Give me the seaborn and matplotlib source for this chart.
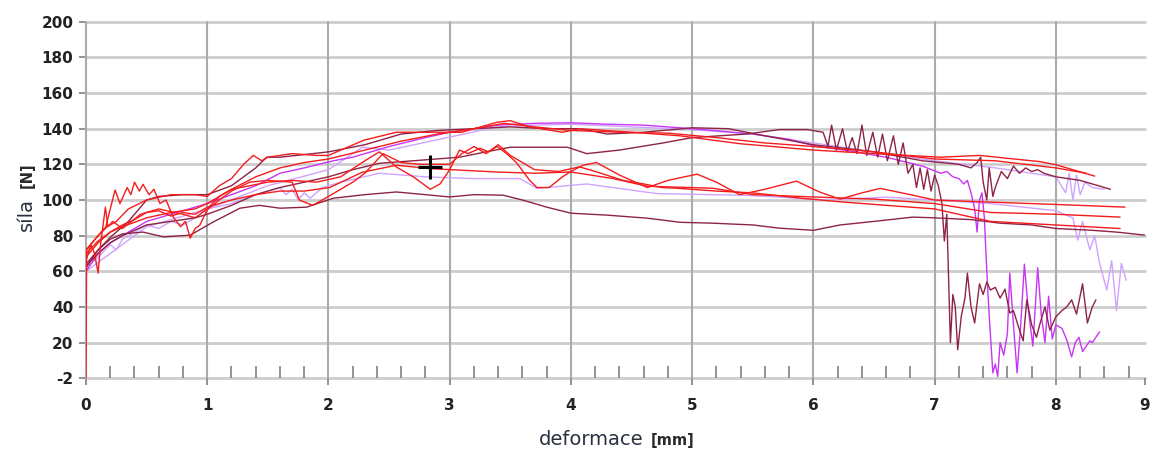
import matplotlib
matplotlib.use("Agg")
import matplotlib.pyplot as plt
import seaborn as sns
import pandas as pd
from matplotlib.ticker import FixedLocator, MultipleLocator

sns.set_theme(style="white")
plt.rcParams['font.family'] = ['DejaVu Sans']

# ---------------- data ----------------
X_END = 8.735            # right end of the axis (labelled "9" in the original)
x_ticks = [0, 1, 2, 3, 4, 5, 6, 7, 8, X_END]
x_tick_labels = ["0", "1", "2", "3", "4", "5", "6", "7", "8", "9"]
y_ticks = [0, 20, 40, 60, 80, 100, 120, 140, 160, 180, 200]
y_tick_labels = ["-2", "20", "40", "60", "80", "100", "120", "140", "160", "180", "200"]

# lowest maroon curve
m_low_x = [0, 0.1, 0.2, 0.3, 0.47, 0.64, 0.86, 1.05, 1.27, 1.43, 1.6, 1.82, 2.04, 2.3, 2.56,
           2.8, 3.0, 3.2, 3.44, 3.6, 3.8, 4.0, 4.3, 4.63, 4.9, 5.17, 5.5, 5.72, 6.0, 6.22, 6.5,
           6.82, 7.0, 7.3, 7.54, 7.8, 8.0, 8.3, 8.5, X_END]
m_low_y = [62, 72, 78, 81, 82, 79.3, 80.3, 87.7, 95.4, 97, 95.4, 96, 101, 103, 104.5,
           103, 101.7, 103, 102.7, 100, 96, 92.6, 91.5, 89.8, 87.5, 87, 86, 84.2, 83, 86, 88,
           90.4, 90, 89, 87, 86, 84, 83, 82, 80.3]

# maroon curve with oscillations from 6.1 and the collapse at 7.1
m_osc_x = [0, 0.1, 0.2, 0.3, 0.5, 0.7, 0.9, 1.0, 1.2, 1.4, 1.6, 1.8, 2.0, 2.2, 2.42, 2.7, 3.08,
           3.3, 3.5, 3.97, 4.13, 4.4, 4.76, 5.0, 5.45, 5.72, 5.95, 6.08,
           6.12, 6.15, 6.19, 6.24, 6.28, 6.32, 6.36, 6.40, 6.44, 6.49, 6.53, 6.57, 6.61, 6.66,
           6.70, 6.74, 6.78, 6.82, 6.85, 6.88, 6.91, 6.94, 6.97, 7.0, 7.03, 7.06, 7.08, 7.1,
           7.13, 7.15, 7.17, 7.19, 7.22, 7.25, 7.27, 7.3, 7.33, 7.37, 7.4, 7.43, 7.46, 7.5,
           7.54, 7.58, 7.62, 7.65, 7.7, 7.73, 7.76, 7.8, 7.84, 7.87, 7.91, 7.95, 8.0, 8.05,
           8.09, 8.13, 8.17, 8.22, 8.26, 8.3, 8.33]
m_osc_y = [63, 70, 76, 80, 86, 88, 90, 92, 97, 103, 107, 110, 113, 117, 120.6, 122, 124,
           127, 129.6, 129.6, 126, 128, 132, 135, 137, 139.5, 139.5, 138,
           130, 142, 128, 140, 127, 135, 126, 142, 125, 138, 124, 137, 122, 136,
           120, 132, 115, 120, 107, 118, 106, 117, 105, 114, 108, 98, 77, 92,
           20, 47, 40, 16, 35, 45, 59, 40, 31, 53, 47, 54, 49.5, 51,
           45, 50, 36.6, 38, 27, 21, 44, 30, 23, 31, 40, 27, 34.5, 38,
           40, 44, 36, 53, 31, 40, 44]

# upper maroon curve ending near 106
m_up_x = [0, 0.1, 0.2, 0.35, 0.5, 0.6, 0.8, 1.0, 1.2, 1.4, 1.49, 1.6, 1.87, 2.0, 2.3, 2.6,
          2.9, 3.2, 3.5, 3.8, 4.07, 4.3, 4.6, 5.0, 5.3, 5.6, 6.0, 6.5, 6.9, 7.05, 7.2, 7.3,
          7.35, 7.38, 7.4, 7.43, 7.45, 7.48, 7.5, 7.55, 7.6, 7.65, 7.7, 7.75, 7.8, 7.85, 7.9,
          8.0, 8.1, 8.2, 8.3, 8.4, 8.45]
m_up_y = [64, 72, 79, 88, 100, 102, 103, 103, 108, 118, 124, 124, 126, 127, 131, 137,
          139, 140, 141, 140, 140, 137, 138, 140.5, 140, 136, 131, 127, 122, 121, 120, 118,
          121, 124, 110, 100, 118, 102, 107, 116, 112, 119, 115, 118, 116, 117, 115,
          113, 112, 111, 109, 107, 106]

# magenta curve
mag_x = [0, 0.1, 0.2, 0.3, 0.5, 0.7, 0.9, 1.0, 1.2, 1.4, 1.6, 1.8, 2.04, 2.2, 2.5, 2.8,
         3.0, 3.2, 3.4, 3.7, 4.0, 4.3, 4.6, 5.0, 5.5, 5.8, 6.0, 6.3, 6.6, 6.9, 7.05, 7.1,
         7.15, 7.2, 7.24, 7.27, 7.3, 7.33, 7.35, 7.37, 7.39, 7.41, 7.43, 7.45, 7.48, 7.5,
         7.52, 7.54, 7.57, 7.6, 7.62, 7.65, 7.68, 7.71, 7.74, 7.77, 7.81, 7.85, 7.88, 7.91,
         7.94, 7.97, 8.0, 8.05, 8.09, 8.13, 8.16, 8.19, 8.22, 8.25, 8.28, 8.3, 8.33, 8.36]
mag_y = [60, 70, 76, 80, 88, 92, 96, 98, 103, 108, 115, 118, 122, 124, 130, 135,
         138, 140, 142, 143, 143.3, 142.5, 142, 140, 137, 134, 130.5, 127.5, 124, 119, 115, 116,
         113, 112, 109, 111, 104, 95, 82, 100, 104, 90, 60, 35, 3, 8,
         1, 20, 13, 25, 59, 30, 3, 30, 64, 40, 18, 62, 35, 20,
         46, 22, 30, 28, 21.5, 12, 20, 23, 15, 18, 21, 20, 23, 26]

# light violet, lower (ends with oscillations near 55)
lv_low_x = [0, 0.1, 0.2, 0.25, 0.3, 0.4, 0.5, 0.6, 0.7, 0.8, 0.9, 1.0, 1.2, 1.4, 1.6, 1.65,
            1.7, 1.75, 1.8, 1.85, 1.95, 2.1, 2.42, 2.8, 3.2, 3.58, 3.72, 4.13, 4.71, 5.45,
            5.72, 6.11, 6.6, 7.0, 7.46, 8.0, 8.14, 8.18, 8.22, 8.28, 8.32, 8.36, 8.42, 8.46,
            8.5, 8.54, 8.58]
lv_low_y = [62, 68, 75, 72, 78, 82, 86, 84, 88, 86, 90, 95, 98, 103, 107, 103,
            106, 100, 104, 101, 107, 110, 115, 113, 112, 112, 106.5, 109, 103.6, 102.6,
            101.6, 100, 101.6, 100, 98, 94, 90, 77.5, 88, 72, 80, 64.5, 49.5, 66,
            38, 64.5, 55]

# light violet, upper
lv_up_x = [0, 0.3, 0.5, 1.0, 1.5, 2.0, 2.28, 2.5, 2.98, 3.39, 3.7, 4.0, 4.5, 5.0, 5.5, 6.0,
           6.5, 7.0, 7.5, 8.0, 8.08, 8.11, 8.14, 8.17, 8.2, 8.24, 8.3, 8.4]
lv_up_y = [60, 75, 85, 95, 108, 117, 129.6, 128, 135, 141, 142, 142.5, 141, 139.5, 137, 132,
           127, 122, 118, 113, 104, 115, 100, 114, 103, 110, 107, 106]

# red curves
r1_x = [0, 0.005, 0.05, 0.1, 0.15, 0.25, 0.35, 0.5, 0.7, 0.9, 1.0, 1.1, 1.2, 1.3, 1.38, 1.45,
        1.5, 1.7, 1.9, 2.0, 2.29, 2.56, 2.84, 3.1, 3.39, 3.5, 3.66, 3.93, 4.07, 4.5, 4.9,
        5.39, 6.0, 6.5, 7.05, 7.37, 7.87, 8.0, 8.32]
r1_y = [0, 72, 76, 80, 84, 88, 95, 100, 103, 103, 102, 108, 112, 120, 125, 122,
        124, 126, 125, 125, 133.5, 138, 138, 138, 143.6, 144.5, 141, 138, 140, 138, 136,
        131.6, 128, 126, 124, 125, 121.5, 119.8, 113.4]

r2_x = [0, 0.1, 0.2, 0.3, 0.5, 0.7, 0.9, 1.0, 1.2, 1.4, 1.6, 1.8, 2.0, 2.3, 2.6, 2.9, 3.2,
        3.45, 3.7, 4.0, 4.4, 4.8, 5.2, 5.6, 6.0, 6.5, 7.0, 7.5, 8.0, 8.25]
r2_y = [68, 76, 82, 85, 90, 93, 95, 98, 106, 113, 118, 121, 123, 128, 133, 137, 140,
        143, 141, 139, 138, 137.5, 135, 132, 130, 127, 123, 122, 118, 115]

r_wavy_x = [0, 0.04, 0.07, 0.1, 0.12, 0.16, 0.18, 0.22, 0.3, 0.45, 0.6, 0.8, 0.9, 1.0, 1.1,
            1.2, 1.35, 1.5, 1.7, 1.9, 2.1, 2.3, 2.42, 2.56, 2.7, 2.84, 2.92, 3.0, 3.08, 3.15,
            3.25, 3.32, 3.39, 3.47, 3.55, 3.66, 3.72, 3.82, 3.93, 4.0, 4.1, 4.21, 4.4, 4.63,
            4.8, 5.04, 5.2, 5.39, 5.6, 5.86, 6.05, 6.22, 6.4, 6.55, 6.8, 7.0, 7.46, 8.0, 8.57]
r_wavy_y = [66, 75, 70, 59, 75, 96, 85, 88, 84, 92, 95, 92, 90, 95, 102,
            106, 108, 110, 111, 110, 113, 122, 127, 118.5, 113, 106, 109, 117, 128, 126,
            129, 127, 130, 126, 121, 111, 107, 107, 113, 116, 119.5, 121, 114, 107,
            111, 114.5, 110, 103, 106, 110.6, 104.5, 100.5, 104, 106.5, 103, 100, 98.8, 97.5, 96]

r_smooth_x = [0, 0.1, 0.2, 0.3, 0.4, 0.5, 0.6, 0.7, 0.8, 0.9, 1.0, 1.2, 1.4, 1.6, 1.8, 2.01,
              2.28, 2.56, 2.84, 3.1, 3.39, 3.7, 4.0, 4.35, 4.63, 5.17, 5.5, 6.0, 6.5, 7.0,
              7.46, 8.0, 8.53]
r_smooth_y = [70, 77, 82, 86, 89, 93, 94, 91, 93, 92, 96, 100, 103, 105, 105, 107,
              115.6, 119.5, 117.6, 116.7, 115.7, 115, 115.7, 112, 107.7, 106.6, 103, 101.7,
              100.5, 98, 93, 92, 90.4]

r_noisy_x = [0, 0.05, 0.1, 0.16, 0.2, 0.24, 0.28, 0.34, 0.37, 0.4, 0.44, 0.47, 0.52, 0.56,
             0.61, 0.66, 0.72, 0.78, 0.82, 0.86, 0.9, 0.94, 1.0, 1.1, 1.2, 1.35, 1.5, 1.7,
             1.76, 1.87, 1.99, 2.1, 2.2, 2.3, 2.45, 2.6, 2.75, 3.0, 3.1, 3.2, 3.3, 3.4, 3.5,
             3.6, 3.7, 3.9, 4.07, 4.2, 4.43, 4.6, 4.75, 4.9, 5.2, 5.5, 5.9, 6.22, 6.6, 7.0,
             7.46, 8.0, 8.53]
r_noisy_y = [72, 76, 80, 84, 95, 105.6, 98, 107, 103, 110, 105, 108.8, 103, 106,
             98, 100, 90.4, 85, 88, 78.6, 84, 86, 94.6, 100, 105, 110, 111, 110,
             100, 97, 101.6, 106, 110, 115, 126, 121, 120, 120, 126, 130, 126, 131, 125,
             121, 117, 116, 118.6, 116, 111, 109, 107, 106.5, 105, 104, 101, 99, 97, 95,
             88, 86, 84]

cursor_x = [2.84]
cursor_y = [118.4]

series = [
    ("lv_low", lv_low_x, lv_low_y),
    ("lv_up", lv_up_x, lv_up_y),
    ("magenta", mag_x, mag_y),
    ("m_low", m_low_x, m_low_y),
    ("m_up", m_up_x, m_up_y),
    ("m_osc", m_osc_x, m_osc_y),
    ("r2", r2_x, r2_y),
    ("r_smooth", r_smooth_x, r_smooth_y),
    ("r_noisy", r_noisy_x, r_noisy_y),
    ("r_wavy", r_wavy_x, r_wavy_y),
    ("r1", r1_x, r1_y),
]
RED = "#f41c1c"
MAROON = "#8e2444"
MAGENTA = "#c836f5"
LILAC = "#cfa3ff"
palette = {"lv_low": LILAC, "lv_up": LILAC, "magenta": MAGENTA, "m_low": MAROON,
           "m_up": MAROON, "m_osc": MAROON, "r2": RED, "r_smooth": RED,
           "r_noisy": RED, "r_wavy": RED, "r1": RED}

rows = []
for name, xs, ys in series:
    for i, (xv, yv) in enumerate(zip(xs, ys)):
        rows.append({"curve": name, "x": xv, "y": yv, "i": i})
df = pd.DataFrame(rows)

# ---------------- figure ----------------
fig = plt.figure(figsize=(11.56, 4.5), dpi=100)
ax = fig.add_axes([86 / 1156, 1 - 378.3 / 450, (1145 - 86) / 1156, (378.3 - 21.7) / 450])
ax.set_xlim(0, X_END)
ax.set_ylim(0, 200)

# grid
for yv in y_ticks:
    ax.axhline(yv, color="#cdcdcd", lw=2.0, zorder=0.5, clip_on=False)
for xv in x_ticks[:-1]:
    ax.axvline(xv, color="#ababab", lw=1.5, zorder=0.6, clip_on=False)

for name, xs, ys in series:
    sub = df[df["curve"] == name]
    sns.lineplot(data=sub, x="x", y="y", color=palette[name], lw=1.0,
                 estimator=None, sort=False, legend=False, ax=ax, zorder=2)

ax.plot(cursor_x, cursor_y, marker="+", markersize=17, mew=2.2, color="black",
        linestyle="none", zorder=5)

for s in ax.spines.values():
    s.set_visible(False)

ax.xaxis.set_major_locator(FixedLocator(x_ticks))
ax.set_xticklabels(x_tick_labels)
ax.xaxis.set_minor_locator(MultipleLocator(0.2))
ax.yaxis.set_major_locator(FixedLocator(y_ticks))
ax.set_yticklabels(y_tick_labels)

ax.tick_params(axis="x", which="major", direction="out", length=5, width=1.3,
               color="#8a8a8a", pad=9, labelsize=11, labelcolor="#222222", bottom=True)
ax.tick_params(axis="x", which="minor", direction="in", length=9, width=1.3,
               color="#8a8a8a", bottom=True)
ax.tick_params(axis="y", which="major", direction="out", length=5, width=1.3,
               color="#8a8a8a", pad=4, labelsize=11, labelcolor="#222222", left=True)
for lab in ax.get_xticklabels() + ax.get_yticklabels():
    lab.set_fontweight("bold")

ax.set_xlabel("")
ax.set_ylabel("")

# axis titles
fig.text(643 / 1156, 1 - 445 / 450, "deformace", ha="right", va="baseline",
         fontsize=14, color="#2a3040")
fig.text(651 / 1156, 1 - 445 / 450, "[mm]", ha="left", va="baseline",
         fontsize=10.5, fontweight="bold", color="#2a2a2a")
fig.text(32 / 1156, 1 - 231 / 450, "síla", ha="left", va="baseline", rotation=90,
         rotation_mode="anchor", fontsize=14, color="#2a3040")
fig.text(32 / 1156, 1 - 188 / 450, "[N]", ha="left", va="baseline", rotation=90,
         rotation_mode="anchor", fontsize=10.5, fontweight="bold", color="#2a2a2a")

fig.savefig("out.png", dpi=100)
